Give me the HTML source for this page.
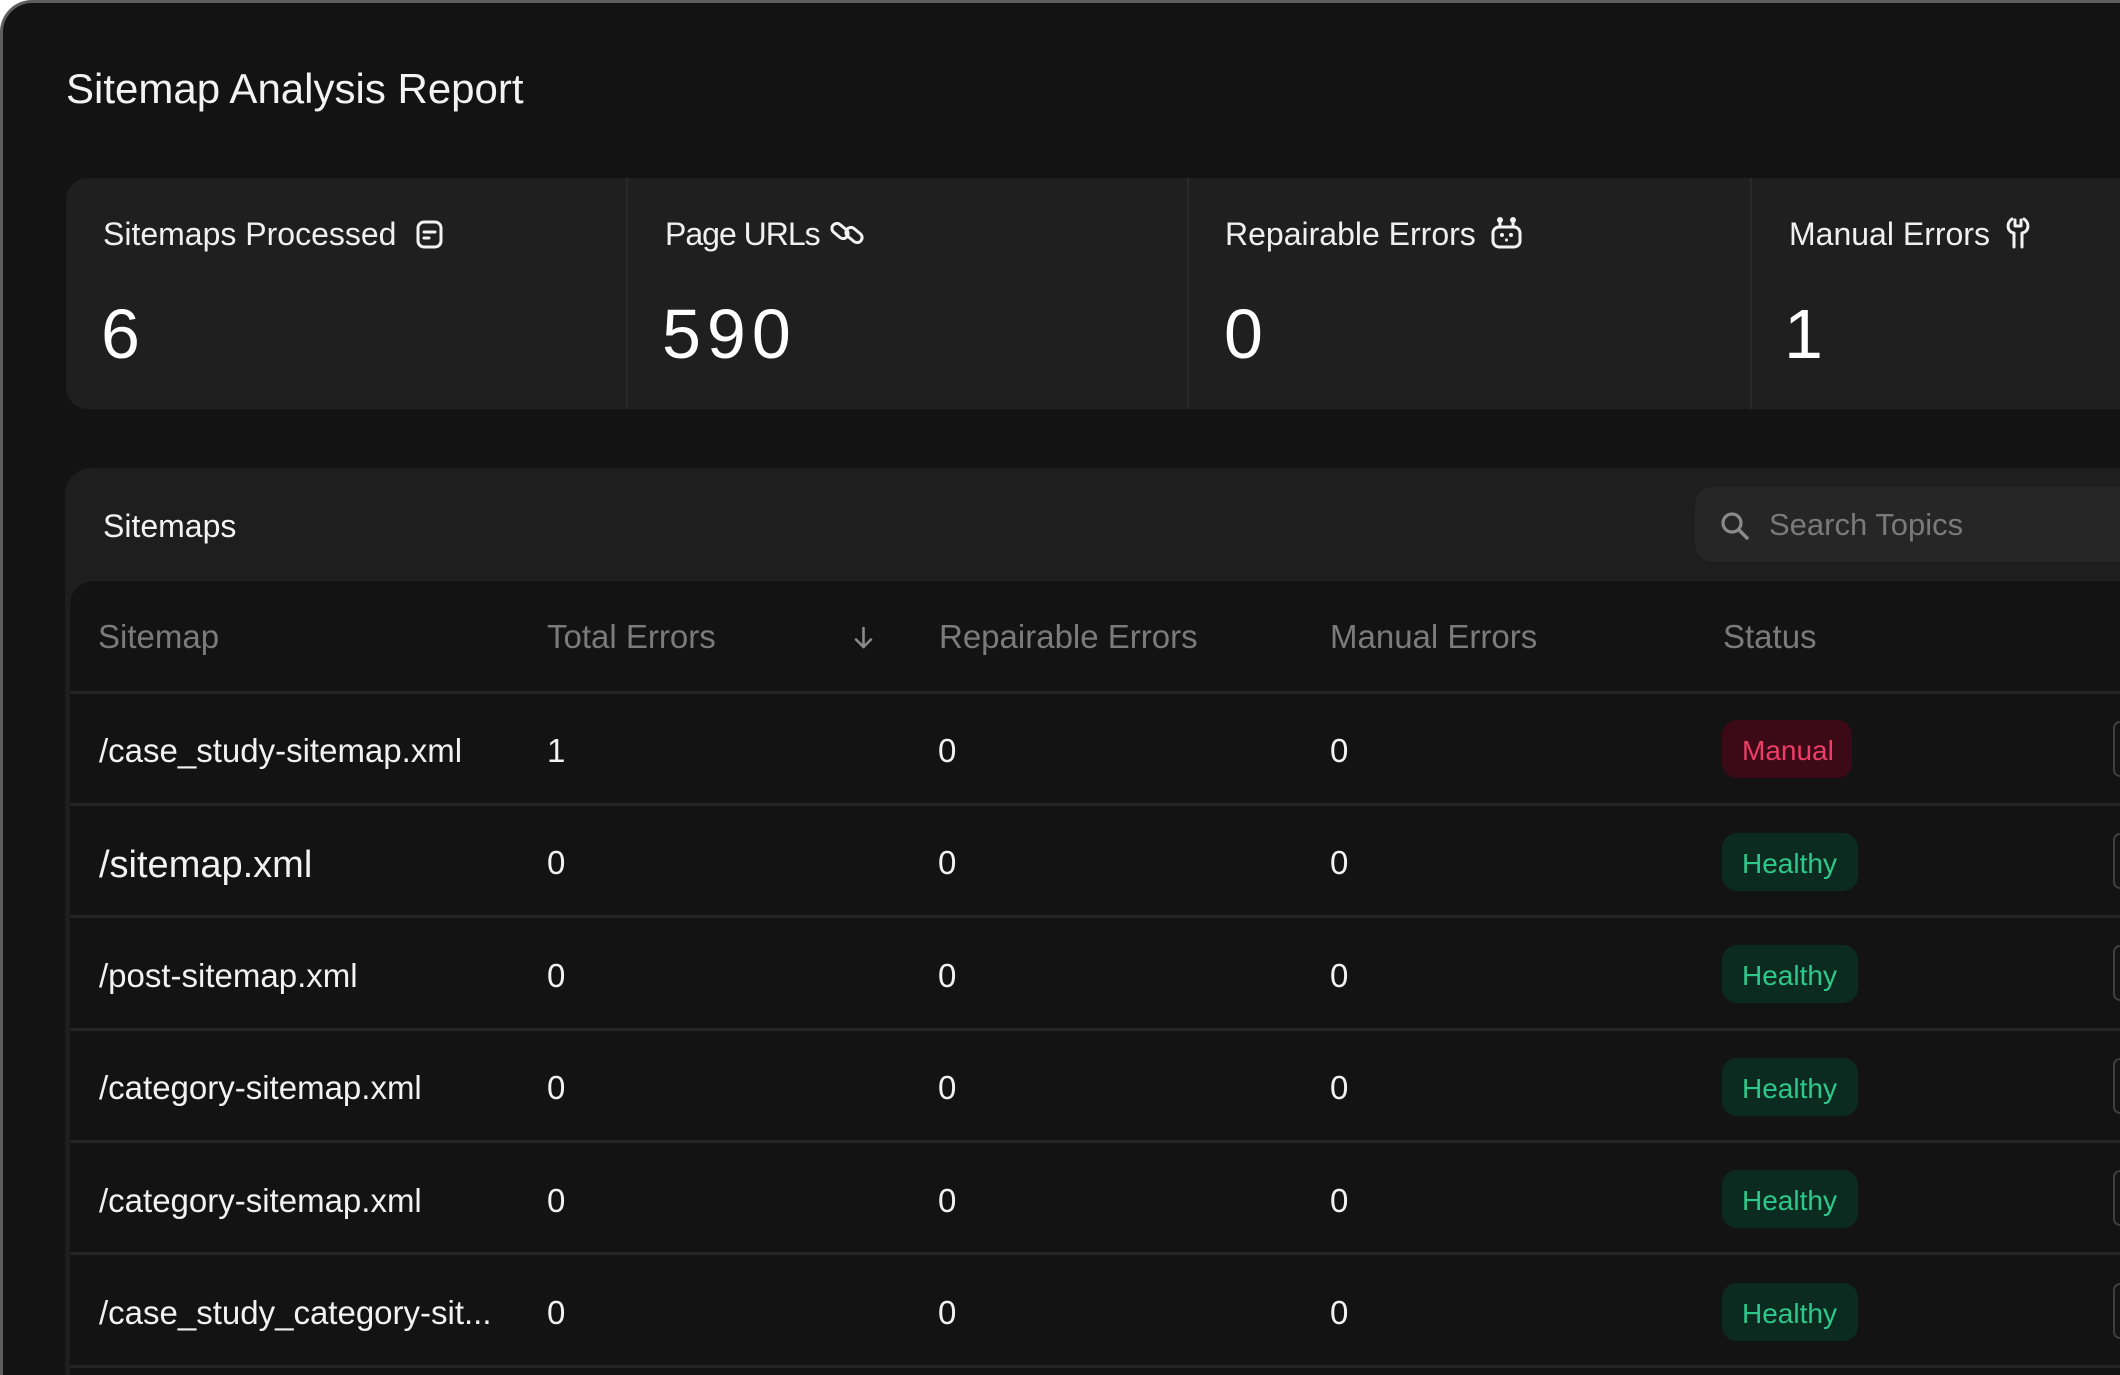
<!DOCTYPE html>
<html>
<head>
<meta charset="utf-8">
<style>
  html,body{margin:0;padding:0;width:2120px;height:1375px;overflow:hidden;}
  body{background:#ffffff;font-family:"Liberation Sans",sans-serif;}
  #wrap{position:relative;width:2120px;height:1375px;overflow:hidden;background:#ffffff;}
  .abs{position:absolute;white-space:nowrap;}
  #frame{position:absolute;left:0;top:0;width:2120px;height:1375px;background:#131313;border-top:3px solid #5e5e5e;border-left:3px solid #5e5e5e;border-top-left-radius:32px;box-sizing:border-box;}
  .t{position:absolute;white-space:nowrap;line-height:1;}
  #card{position:absolute;left:66px;top:178px;width:2054px;height:231px;background:#1f1f1f;border-radius:22px 0 0 22px;}
  .div{position:absolute;top:178px;height:231px;width:2px;background:#292929;}
  .lbl{font-size:32px;color:#f0f0f0;top:218px;}
  .num{font-size:70px;color:#ffffff;top:299px;letter-spacing:6px;}
  #panel{position:absolute;left:65px;top:468px;width:2055px;height:907px;background:#1e1e1e;border-top-left-radius:26px;}
  #search{position:absolute;left:1695px;top:487px;width:425px;height:75px;background:#262626;border-radius:18px 0 0 18px;}
  #table{position:absolute;left:70px;top:581px;width:2050px;height:794px;background:#131313;border-top-left-radius:24px;}
  .sep{position:absolute;left:70px;width:2050px;height:3px;background:#242424;}
  .hd{font-size:33px;color:#7b7b7b;top:620px;}
  .cell{font-size:33px;color:#f2f2f2;}
  .badge{position:absolute;left:1722px;height:58px;border-radius:15px;font-size:28px;line-height:58px;box-sizing:border-box;padding:2px 0 0 20px;}
  .man{width:130px;background:#3b0a16;color:#ee3d66;}
  .hl{width:136px;background:#0b2b20;color:#2dc98c;}
  .btn{position:absolute;left:2113px;width:7px;height:56px;border:2px solid #3e3e3e;border-right:none;border-radius:12px 0 0 12px;box-sizing:border-box;}
</style>
</head>
<body>
<div id="wrap">
<div id="frame"></div>

<div class="t" style="left:66px;top:68px;font-size:42px;color:#f3f3f3;">Sitemap Analysis Report</div>

<div id="card"></div>
<div class="div" style="left:626px;"></div>
<div class="div" style="left:1187px;"></div>
<div class="div" style="left:1750px;"></div>

<div class="t lbl" style="left:103px;">Sitemaps Processed</div>
<div class="t lbl" style="left:665px;letter-spacing:-1px;">Page URLs</div>
<div class="t lbl" style="left:1225px;">Repairable Errors</div>
<div class="t lbl" style="left:1789px;">Manual Errors</div>

<!-- doc icon -->
<svg class="abs" style="left:416px;top:220px;" width="28" height="30" viewBox="0 0 28 30">
  <rect x="2" y="2" width="23" height="25" rx="6" fill="none" stroke="#f2f2f2" stroke-width="3"/>
  <line x1="8" y1="12" x2="19" y2="12" stroke="#f2f2f2" stroke-width="3" stroke-linecap="round"/>
  <line x1="8" y1="18" x2="13" y2="18" stroke="#f2f2f2" stroke-width="3" stroke-linecap="round"/>
</svg>
<!-- link icon -->
<svg class="abs" style="left:830px;top:217px;" width="36" height="32" viewBox="0 0 36 32">
  <g fill="none" stroke="#f2f2f2" stroke-width="3" stroke-linecap="round">
    <rect x="1" y="9" width="18" height="10" rx="5" transform="rotate(40 10 14)"/>
    <rect x="15" y="13" width="18" height="10" rx="5" transform="rotate(40 24 18)"/>
  </g>
</svg>
<!-- robot icon -->
<svg class="abs" style="left:1490px;top:216px;" width="34" height="34" viewBox="0 0 34 34">
  <circle cx="10" cy="4" r="3" fill="#f2f2f2"/>
  <circle cx="23" cy="4" r="3" fill="#f2f2f2"/>
  <line x1="10" y1="5" x2="10" y2="11" stroke="#f2f2f2" stroke-width="3"/>
  <line x1="23" y1="5" x2="23" y2="11" stroke="#f2f2f2" stroke-width="3"/>
  <rect x="3" y="11" width="27" height="20" rx="6" fill="none" stroke="#f2f2f2" stroke-width="3"/>
  <circle cx="12" cy="19" r="2" fill="#f2f2f2"/>
  <circle cx="21" cy="19" r="2" fill="#f2f2f2"/>
  <circle cx="16.5" cy="24" r="1.6" fill="#f2f2f2"/>
</svg>
<!-- wrench icon -->
<svg class="abs" style="left:2004px;top:216px;" width="30" height="34" viewBox="0 0 30 34">
  <g fill="none" stroke="#f2f2f2" stroke-width="3" stroke-linecap="round" stroke-linejoin="round">
    <path d="M8 3 C2 7 3 16 10 17 V31"/>
    <path d="M20 3 C26 7 25 16 18 17 V31"/>
    <path d="M11 4 V10 H17 V4"/>
  </g>
</svg>

<div class="t num" style="left:101px;">6</div>
<div class="t num" style="left:662px;">590</div>
<div class="t num" style="left:1224px;">0</div>
<div class="t num" style="left:1784px;">1</div>

<div id="panel"></div>
<div class="t" style="left:103px;top:510px;font-size:32px;color:#f3f3f3;">Sitemaps</div>
<div id="search"></div>
<svg class="abs" style="left:1718px;top:510px;" width="34" height="32" viewBox="0 0 34 32">
  <circle cx="14" cy="13" r="9" fill="none" stroke="#8a8a8a" stroke-width="3.2"/>
  <line x1="21" y1="20" x2="29" y2="28" stroke="#8a8a8a" stroke-width="3.5" stroke-linecap="round"/>
</svg>
<div class="t" style="left:1769px;top:509px;font-size:31px;color:#7a7a7a;">Search Topics</div>

<div id="table"></div>
<div class="t hd" style="left:98px;">Sitemap</div>
<div class="t hd" style="left:547px;">Total Errors</div>
<svg class="abs" style="left:852px;top:625px;" width="24" height="26" viewBox="0 0 24 26">
  <g fill="none" stroke="#8a8a8a" stroke-width="2.6" stroke-linecap="round" stroke-linejoin="round">
    <line x1="11.5" y1="3" x2="11.5" y2="22"/>
    <polyline points="4,14.5 11.5,22 19,14.5"/>
  </g>
</svg>
<div class="t hd" style="left:939px;">Repairable Errors</div>
<div class="t hd" style="left:1330px;">Manual Errors</div>
<div class="t hd" style="left:1723px;">Status</div>

<div class="sep" style="top:691px;"></div>
<div class="sep" style="top:803px;"></div>
<div class="sep" style="top:915px;"></div>
<div class="sep" style="top:1028px;"></div>
<div class="sep" style="top:1140px;"></div>
<div class="sep" style="top:1252px;"></div>
<div class="sep" style="top:1365px;"></div>

<!-- row 1 -->
<div class="t cell" style="left:99px;top:734px;">/case_study-sitemap.xml</div>
<div class="t cell" style="left:547px;top:734px;">1</div>
<div class="t cell" style="left:938px;top:734px;">0</div>
<div class="t cell" style="left:1330px;top:734px;">0</div>
<div class="badge man" style="top:720px;">Manual</div>
<div class="btn" style="top:721px;"></div>

<!-- row 2 -->
<div class="t cell" style="left:99px;top:846px;font-size:38px;">/sitemap.xml</div>
<div class="t cell" style="left:547px;top:846px;">0</div>
<div class="t cell" style="left:938px;top:846px;">0</div>
<div class="t cell" style="left:1330px;top:846px;">0</div>
<div class="badge hl" style="top:833px;">Healthy</div>
<div class="btn" style="top:833px;"></div>

<!-- row 3 -->
<div class="t cell" style="left:99px;top:959px;">/post-sitemap.xml</div>
<div class="t cell" style="left:547px;top:959px;">0</div>
<div class="t cell" style="left:938px;top:959px;">0</div>
<div class="t cell" style="left:1330px;top:959px;">0</div>
<div class="badge hl" style="top:945px;">Healthy</div>
<div class="btn" style="top:945px;"></div>

<!-- row 4 -->
<div class="t cell" style="left:99px;top:1071px;">/category-sitemap.xml</div>
<div class="t cell" style="left:547px;top:1071px;">0</div>
<div class="t cell" style="left:938px;top:1071px;">0</div>
<div class="t cell" style="left:1330px;top:1071px;">0</div>
<div class="badge hl" style="top:1058px;">Healthy</div>
<div class="btn" style="top:1058px;"></div>

<!-- row 5 -->
<div class="t cell" style="left:99px;top:1184px;">/category-sitemap.xml</div>
<div class="t cell" style="left:547px;top:1184px;">0</div>
<div class="t cell" style="left:938px;top:1184px;">0</div>
<div class="t cell" style="left:1330px;top:1184px;">0</div>
<div class="badge hl" style="top:1170px;">Healthy</div>
<div class="btn" style="top:1170px;"></div>

<!-- row 6 -->
<div class="t cell" style="left:99px;top:1296px;">/case_study_category-sit...</div>
<div class="t cell" style="left:547px;top:1296px;">0</div>
<div class="t cell" style="left:938px;top:1296px;">0</div>
<div class="t cell" style="left:1330px;top:1296px;">0</div>
<div class="badge hl" style="top:1283px;">Healthy</div>
<div class="btn" style="top:1283px;"></div>

</div>
</body>
</html>
